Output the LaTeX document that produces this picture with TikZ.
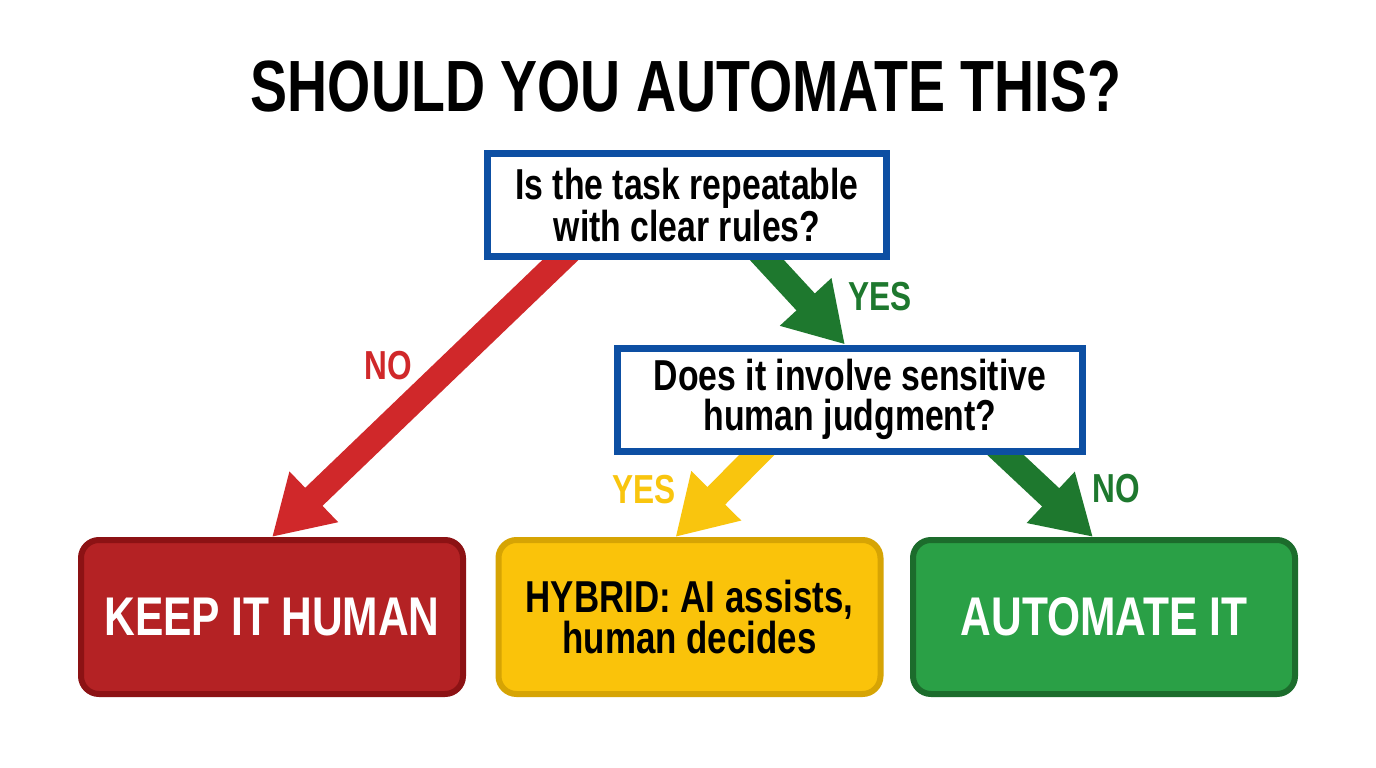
\documentclass[tikz,border=0pt]{standalone}
\usepackage{fontspec}
\setmainfont[FakeStretch=0.78]{Liberation Sans}
\usetikzlibrary{arrows.meta,backgrounds}
\definecolor{qblue}{RGB}{13,79,163}
\definecolor{redarrow}{RGB}{208,40,42}
\definecolor{redfill}{RGB}{180,34,36}
\definecolor{redline}{RGB}{140,18,20}
\definecolor{yelfill}{RGB}{250,195,10}
\definecolor{yelline}{RGB}{214,164,4}
\definecolor{yelarrow}{RGB}{249,197,14}
\definecolor{grnfill}{RGB}{42,160,70}
\definecolor{grnline}{RGB}{28,108,44}
\definecolor{grnarrow}{RGB}{30,120,46}
\tikzstyle{heading}=[font=\bfseries\fontsize{72.6}{80}\selectfont,xscale=0.98]
\tikzstyle{question}=[draw=qblue,line width=7pt,fill=white,minimum width=399pt,minimum height=103pt,align=center,font=\bfseries\fontsize{43.3}{40}\selectfont]
\tikzstyle{answer}=[rounded corners=18pt,line width=6pt,minimum width=382pt,minimum height=154pt,align=center]
\tikzstyle{keepbox}=[answer,fill=redfill,draw=redline,text=white,font=\bfseries\fontsize{54.5}{60}\selectfont]
\tikzstyle{hybridbox}=[answer,fill=yelfill,draw=yelline,text=black,font=\bfseries\fontsize{44.7}{39}\selectfont]
\tikzstyle{autobox}=[keepbox,fill=grnfill,draw=grnline]
\tikzstyle{flow}=[line width=25pt,-{Triangle[width=66pt,length=58pt]}]
\tikzstyle{branch}=[font=\bfseries\fontsize{40.5}{44}\selectfont]

\begin{document}
\begin{tikzpicture}[x=1pt,y=-1pt]
\useasboundingbox (0,0) rectangle (1376,768);
        \node[heading] (title) at (686,87) {SHOULD YOU AUTOMATE THIS?};
        \node[question] (q1) at (687,205) {Is the task repeatable\\with clear rules?};
        \node[question,minimum width=465pt] (q2) at (850,399.5) {Does it involve sensitive\\human judgment?};
        \node[keepbox] (keep) at (272,617) {KEEP IT HUMAN};
        \node[hybridbox] (hybrid) at (689.5,617) {HYBRID: AI assists,\\human decides};
        \node[autobox] (auto) at (1104,617) {AUTOMATE IT};
        \begin{scope}[on background layer]
          \fill[white] (0,0) rectangle (1376,768);
          \draw[flow,redarrow] ([xshift=-111pt,yshift=15pt]q1.south) -- (keep.north);
          \draw[flow,grnarrow] ([xshift=66pt,yshift=15pt]q1.south) -- ([xshift=-5pt]q2.north);
          \draw[flow,yelarrow] ([xshift=-78pt,yshift=15pt]q2.south) -- ([xshift=-14pt]hybrid.north);
          \draw[flow,grnarrow] ([xshift=139pt,yshift=15pt]q2.south) -- ([xshift=-11pt]auto.north);
        \end{scope}
        \node[branch,text=redarrow] (no1) at (388,366) {NO};
        \node[branch,text=grnarrow] (yes1) at (880,297) {YES};
        \node[branch,text=yelarrow] (yes2) at (644,490) {YES};
        \node[branch,text=grnarrow] (no2) at (1116,489) {NO};
      \end{tikzpicture}
\end{document}
